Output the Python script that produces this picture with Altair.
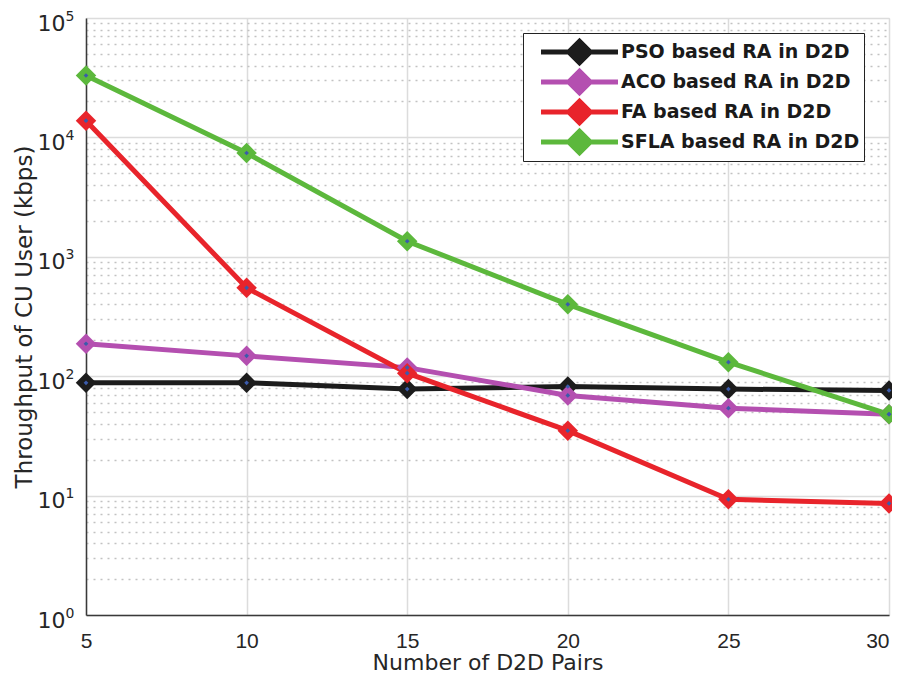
import altair as alt
import pandas as pd

pairs = [5, 10, 15, 20, 25, 30]
series_names = ["PSO based RA in D2D", "ACO based RA in D2D", "FA based RA in D2D", "SFLA based RA in D2D"]
pso = [88, 88, 78, 82, 78, 76]
aco = [187, 148, 118, 69, 54, 48]
fa = [13800, 550, 106, 35, 9.3, 8.6]
sfla = [33000, 7400, 1350, 400, 131, 48]
colors = ["#1c1c1c", "#b44fb0", "#e8242b", "#5cb83c"]
x_ticks = [5, 10, 15, 20, 25, 30]
y_ticks = [m * 10 ** e for e in range(0, 5) for m in range(1, 10)] + [100000]

rows = []
for name, vals in zip(series_names, [pso, aco, fa, sfla]):
    for x, v in zip(pairs, vals):
        rows.append({"pairs": x, "value": v, "series": name})
df = pd.DataFrame(rows)

is_major = "abs(log(datum.value)/LN10 - round(log(datum.value)/LN10)) < 0.001"
yscale = alt.Scale(type="log", domain=[1, 100000], nice=False)
xscale = alt.Scale(domain=[5, 30], nice=False, zero=False)

xaxis = alt.Axis(values=x_ticks, title="Number of D2D Pairs", grid=True,
                 gridColor="#dcdcdc", gridWidth=1.5, ticks=False, labelFlush=False,
                 labelAlign={"condition": {"test": "datum.value >= 30", "value": "right"}, "value": "center"},
                 labelFontSize=21, labelColor="#262626", labelPadding=15,
                 titleFontSize=22, titleFontWeight="normal", titleColor="#262626",
                 titleBaseline="alphabetic", titleY=54,
                 domainColor="#3a3a3a", domainWidth=1.5,
                 labelFont="Liberation Sans", titleFont="DejaVu Sans")
xenc = alt.X("pairs:Q", scale=xscale, axis=xaxis)

yaxis_main = alt.Axis(values=y_ticks, orient="left", title="Throughput of CU User (kbps)", grid=True,
                      gridColor={"condition": {"test": is_major, "value": "#dcdcdc"}, "value": "#c2c2c2"},
                      gridDash={"condition": {"test": is_major, "value": []}, "value": [2, 5]},
                      gridWidth=1.5, ticks=False, labelOverlap=False,
                      labelExpr="(" + is_major + ") ? '10' : ''",
                      labelFontSize=22, labelColor="#262626", labelPadding=21,
                      labelBaseline="alphabetic", labelOffset=12,
                      titleFontSize=23, titleFontWeight="normal", titleColor="#262626",
                      titlePadding=1, domainColor="#3a3a3a", domainWidth=1.5,
                      labelFont="DejaVu Sans", titleFont="DejaVu Sans")
yaxis_exp = alt.Axis(values=y_ticks, orient="left", title=None, grid=False, ticks=False,
                     domain=False, labelOverlap=False,
                     labelExpr="(" + is_major + ") ? format(round(log(datum.value)/LN10), 'd') : ''",
                     labelFontSize=14, labelColor="#262626", labelPadding=12,
                     labelBaseline="alphabetic", labelOffset=2, labelAlign="right",
                     labelFont="DejaVu Sans")

color = alt.Color("series:N",
                  scale=alt.Scale(domain=series_names, range=colors),
                  legend=alt.Legend(title=None, orient="none", legendX=437, legendY=15,
                                    symbolType="M-5,0H5M-1.4,0L0,-1.4L1.4,0L0,1.4Z",
                                    symbolSize=237, symbolStrokeWidth=5, symbolOffset=42,
                                    labelFontSize=19, labelFontWeight="bold", labelColor="#1a1a1a",
                                    labelFont="DejaVu Sans", clipHeight=30,
                                    rowPadding=0, padding=4, strokeColor="#222222",
                                    fillColor="white", labelOffset=31, labelLimit=400))

base = alt.Chart(df)
lines = base.mark_line(strokeWidth=5).encode(
    x=xenc, y=alt.Y("value:Q", scale=yscale, axis=yaxis_main), color=color, detail="series:N")
points = base.mark_point(shape="diamond", filled=True, size=420, opacity=1).encode(
    x=xenc, y=alt.Y("value:Q", scale=yscale, axis=None),
    color=alt.Color("series:N", scale=alt.Scale(domain=series_names, range=colors), legend=None))
dots = base.mark_point(shape="diamond", filled=True, size=22, color="#3b5bab", opacity=1).encode(
    x=xenc, y=alt.Y("value:Q", scale=yscale, axis=yaxis_exp))

chart = alt.layer(lines, points, dots).resolve_scale(color="shared", y="shared").resolve_axis(
    y="independent").properties(
    width=803, height=597,
    autosize=alt.AutoSizeParams(type="none"),
    padding={"left": 78, "top": 10, "right": 3, "bottom": 60},
).configure_view(stroke="#3a3a3a", strokeWidth=1.5).configure(background="white")

chart.save("out.html", embed_options={"renderer": "svg", "actions": False})
